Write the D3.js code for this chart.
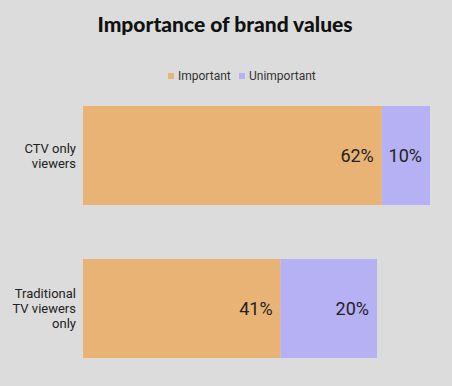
<!DOCTYPE html>
<html>
<head>
<meta charset="utf-8">
<script src="https://d3js.org/d3.v7.min.js"></script>
<style>
  html, body { margin: 0; padding: 0; background: #dcdcdc; }
  svg { display: block; }
</style>
</head>
<body>
<svg id="chart" width="452" height="386"></svg>
<script>
// ── data ──────────────────────────────────────────
const categories = [["CTV only", "viewers"], ["Traditional", "TV viewers", "only"]];
const seriesNames = ["Important", "Unimportant"];
const important = [62, 41];
const unimportant = [10, 20];
const colors = ["#e9b376", "#b6b0f4"];

const svg = d3.select("#chart");

// title
svg.append("text")
    .attr("x", 225)
    .attr("y", 32)
    .attr("text-anchor", "middle")
    .attr("font-family", "Lato, 'DejaVu Sans', sans-serif")
    .attr("font-weight", "900")
    .attr("font-size", "21px")
    .attr("fill", "#111")
    .text("Importance of brand values");

// legend
const legend = svg.append("g").attr("font-family", "Roboto, sans-serif").attr("font-size", "12px");
const legendX = [168, 239];
seriesNames.forEach((name, i) => {
    const lg = legend.append("g").attr("transform", `translate(${legendX[i]},76)`);
    lg.append("rect").attr("x", 0).attr("y", -3).attr("width", 6).attr("height", 6).attr("fill", colors[i]);
    lg.append("text").attr("x", 10).attr("dy", "0.35em").attr("fill", "#333").text(name);
});

// scales
const x = d3.scaleLinear().domain([0, 72]).range([83, 430]);
const y = d3.scaleBand()
    .domain(d3.range(categories.length))
    .range([76, 388])
    .paddingInner(0.353)
    .paddingOuter(0.196);

const stacked = categories.map((c, i) => [
    { i, s: 0, x0: 0, x1: important[i], v: important[i] },
    { i, s: 1, x0: important[i], x1: important[i] + unimportant[i], v: unimportant[i] }
]).flat();

const bars = svg.append("g");
bars.selectAll("rect")
    .data(stacked)
    .join("rect")
    .attr("x", d => x(d.x0))
    .attr("y", d => y(d.i))
    .attr("width", d => x(d.x1) - x(d.x0))
    .attr("height", y.bandwidth())
    .attr("fill", d => colors[d.s]);

bars.selectAll("text")
    .data(stacked)
    .join("text")
    .attr("x", d => x(d.x1) - 8)
    .attr("y", d => y(d.i) + y.bandwidth() / 2)
    .attr("dy", "0.36em")
    .attr("text-anchor", "end")
    .attr("font-family", "Roboto, sans-serif")
    .attr("font-size", "18px")
    .attr("fill", "#222")
    .text(d => d.v + "%");

// category labels
const cat = svg.append("g")
    .attr("font-family", "Roboto, sans-serif")
    .attr("font-size", "13px")
    .attr("fill", "#222")
    .attr("text-anchor", "end");
categories.forEach((lines, i) => {
    const lh = 15;
    const cy = y(i) + y.bandwidth() / 2;
    const t = cat.append("text").attr("x", 76);
    lines.forEach((ln, j) => {
        t.append("tspan")
            .attr("x", 76)
            .attr("y", cy + (j - (lines.length - 1) / 2) * lh)
            .attr("dy", "0.35em")
            .text(ln);
    });
});
</script>
</body>
</html>
